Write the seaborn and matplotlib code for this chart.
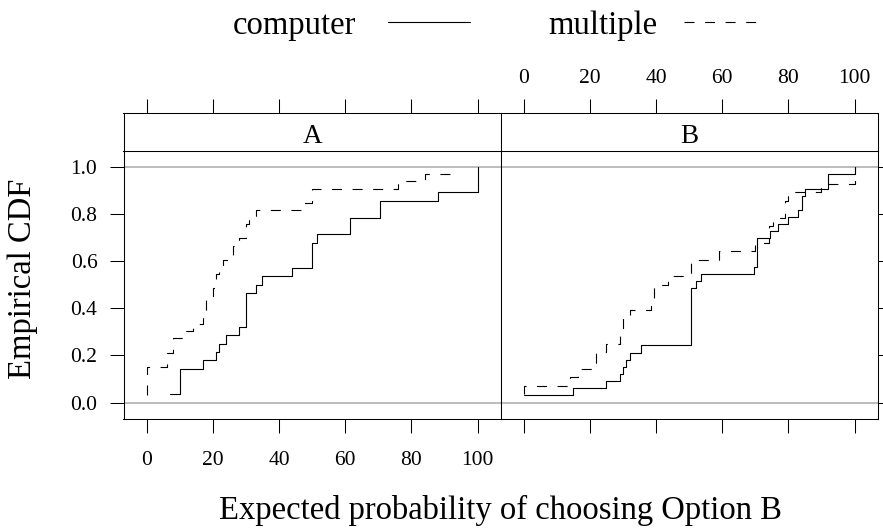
import numpy as np
import matplotlib
matplotlib.use("Agg")
import matplotlib.pyplot as plt
from matplotlib.lines import Line2D
import seaborn as sns

sns.set_theme(style="ticks", rc={
    "axes.edgecolor": "black",
    "axes.linewidth": 0.75,
    "xtick.color": "black",
    "ytick.color": "black",
    "text.color": "black",
    "axes.labelcolor": "black",
})
plt.rcParams["font.family"] = ["Liberation Serif", "DejaVu Serif"]
plt.rcParams["lines.scale_dashes"] = False

# ---- data -------------------------------------------------------------
panels = ["A", "B"]
groups = ["computer", "multiple"]

a_computer = [7, 10, 10, 10, 17, 21, 22, 24, 28, 30, 30, 30, 30, 33, 35, 44,
              50, 50, 50, 51.5, 61.5, 61.5, 70.5, 70.5, 88, 100, 100, 100]
a_multiple = [0, 0, 0, 0, 0, 6, 6, 8, 8, 12, 14, 17, 18, 18, 18, 20, 21, 21,
              22, 23, 26, 26, 28, 30, 30, 31, 33, 47, 50, 50, 76, 84, 92]
b_computer = [0, 15, 25, 29, 30, 31, 32, 35.5,
              50.5, 50.5, 50.5, 50.5, 50.5, 50.5, 50.5, 50.5,
              52, 53.5, 69.5, 70.5, 70.5, 70.5, 70.5, 74.5, 77, 80, 83,
              84, 84, 85, 92, 92, 100]
b_multiple = [0, 0, 14, 16.5, 22, 22, 25, 29, 30, 30, 32, 38.5, 39.5, 39.5,
              43.5, 50.5, 50.5, 59, 70, 74, 74, 75.5, 79, 79, 80, 90, 100, 100]

x_ticks = [0, 20, 40, 60, 80, 100]
y_ticks = [0.0, 0.2, 0.4, 0.6, 0.8, 1.0]
x_title = "Expected probability of choosing Option B"
y_title = "Empirical CDF"

panel_data = {
    "A": {"computer": a_computer, "multiple": a_multiple},
    "B": {"computer": b_computer, "multiple": b_multiple},
}

# ---- styling ----------------------------------------------------------
W, H = 883, 531
REF = "#a9a9a9"
LW = 0.8
DASH = (0, (7.2, 7.6))
styles = {"computer": "-", "multiple": DASH}
XLIM = (-7, 107)
YLIM = (-0.07, 1.07)
TICK_FS = 15.5
STRIP_FS = 19.5
LABEL_FS = 23.5
TICK_LEN = 10.3


def fx(px):
    return px / W


def fy(py):
    return 1 - py / H


fig = plt.figure(figsize=(W / 100, H / 100), dpi=100)

panel_left = [123.5, 500.5]
panel_w = 377.2
p_top, p_bottom = 150.7, 419.0
s_top = 112.7

for i, name in enumerate(panels):
    left = panel_left[i]
    ax = fig.add_axes([fx(left), fy(p_bottom), panel_w / W, (p_bottom - p_top) / H])
    sax = fig.add_axes([fx(left), fy(p_top), panel_w / W, (p_top - s_top) / H])

    ax.axhline(0, color=REF, lw=1.1, zorder=1)
    ax.axhline(1, color=REF, lw=1.1, zorder=1)

    for grp in groups:
        vals = np.asarray(panel_data[name][grp], dtype=float)
        sns.ecdfplot(x=vals, ax=ax, color="black", lw=LW, linestyle=styles[grp])
        line = ax.lines[-1]
        xs, ys = line.get_data()
        # the ECDF starts at the smallest observation
        line.set_data(xs[1:], ys[1:])
        line.set_zorder(3)

    ax.set(xlabel="", ylabel="")
    ax.set_xlim(*XLIM)
    ax.set_ylim(*YLIM)
    ax.set_xticks(x_ticks)
    ax.set_xticklabels([str(t) for t in x_ticks])
    ax.set_yticks(y_ticks)
    ax.set_yticklabels([f"{t:.1f}" for t in y_ticks])

    first = i == 0
    ax.tick_params(axis="x", which="both", bottom=True, top=False,
                   labelbottom=first, labeltop=False, direction="out",
                   length=TICK_LEN, width=0.75, pad=12.5, labelsize=TICK_FS)
    ax.tick_params(axis="y", which="both", left=first, right=not first,
                   labelleft=first, labelright=False, direction="out",
                   length=TICK_LEN, width=0.75, pad=8.5, labelsize=TICK_FS)

    # strip
    sax.set_xlim(*XLIM)
    sax.set_ylim(0, 1)
    sax.set_facecolor("white")
    sax.set_xticks(x_ticks)
    sax.set_xticklabels([str(t) for t in x_ticks])
    sax.set_yticks([])
    sax.tick_params(axis="x", which="both", bottom=False, top=True,
                    labelbottom=False, labeltop=not first, direction="out",
                    length=TICK_LEN, width=0.75, pad=7.5, labelsize=TICK_FS)
    sax.text(0.5, 0.195, name, transform=sax.transAxes, ha="center",
             va="baseline", fontsize=STRIP_FS)

# axis titles
fig.text(fx(500.5), fy(518.5), x_title, ha="center", va="baseline",
         fontsize=LABEL_FS)
fig.text(fx(23), fy(279), y_title, rotation=90, ha="center", va="center",
         fontsize=LABEL_FS)

# key
fig.text(fx(356), fy(34), groups[0], ha="right", va="baseline", fontsize=LABEL_FS)
fig.add_artist(Line2D([fx(387.5), fx(469.6)], [fy(22), fy(22)],
                      transform=fig.transFigure, color="black", lw=LW))
fig.text(fx(657), fy(34), groups[1], ha="right", va="baseline", fontsize=LABEL_FS)
fig.add_artist(Line2D([fx(684), fx(766)], [fy(22), fy(22)],
                      transform=fig.transFigure, color="black", lw=LW,
                      linestyle=DASH))

fig.savefig("out.png", dpi=100)
